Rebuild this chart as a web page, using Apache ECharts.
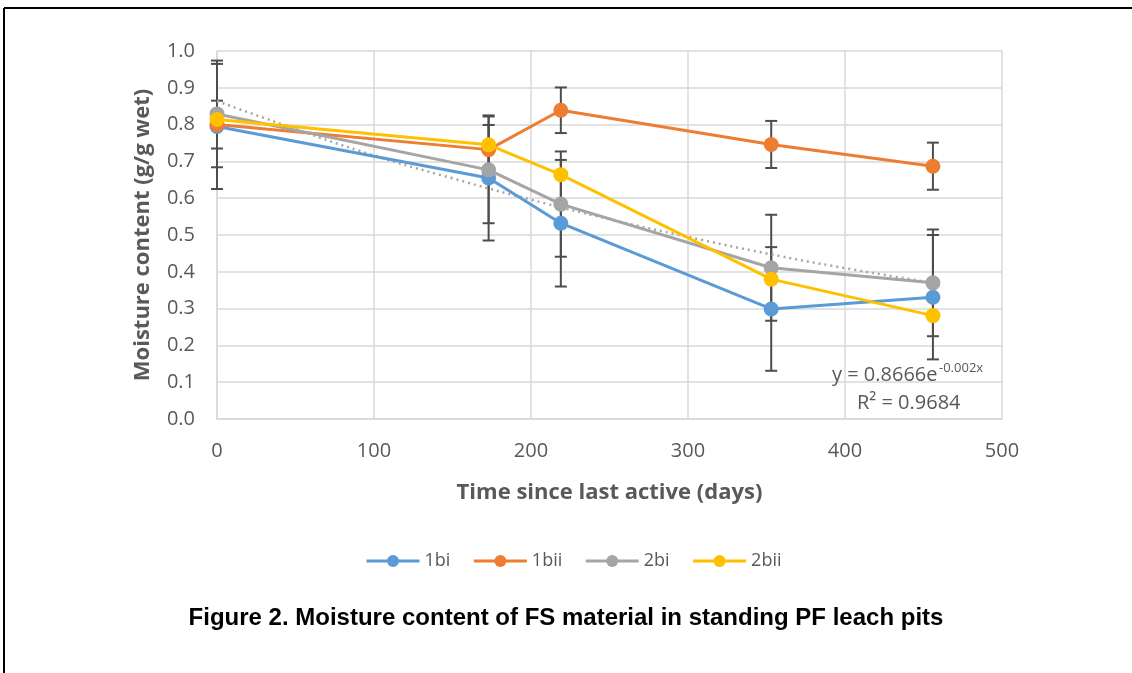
<!DOCTYPE html>
<html>
<head>
<meta charset="utf-8">
<script src="https://cdn.jsdelivr.net/npm/echarts@6/dist/echarts.min.js"></script>
<style>
html,body{margin:0;padding:0;background:#fff;}
#c{width:1132px;height:673px;}
</style>
</head>
<body>
<div id="c"></div>
<script>
// ---- data ----
var days = [0, 173, 219, 353, 456];
var s1bi  = [0.795, 0.655, 0.532, 0.299, 0.331];
var s1bii = [0.800, 0.732, 0.839, 0.746, 0.687];
var s2bi  = [0.829, 0.677, 0.584, 0.411, 0.370];
var s2bii = [0.814, 0.745, 0.664, 0.380, 0.281];
var err1bi  = [0.170, 0.170, 0.172, 0.168, 0.169];
var err1bii = [0.065, 0.067, 0.062, 0.064, 0.064];
var err2bi  = [0.145, 0.145, 0.143, 0.144, 0.145];
var trendDays = [0, 50, 100, 150, 200, 250, 300, 350, 400, 456];
var trendVals = [0.864, 0.788, 0.716, 0.654, 0.596, 0.543, 0.495, 0.450, 0.410, 0.370];
var seriesNames = ['1bi', '1bii', '2bi', '2bii'];
var colors = ['#5B9BD5', '#ED7D31', '#A5A5A5', '#FFC000'];

var chart = echarts.init(document.getElementById('c'), null, {renderer: 'canvas'});

function pairs(xs, ys) { return xs.map(function (x, i) { return [x, ys[i]]; }); }
function errData(xs, ys, es) { return xs.map(function (x, i) { return [x, ys[i] - es[i], ys[i] + es[i]]; }); }

function errRender(params, api) {
  var x = api.value(0), lo = api.value(1), hi = api.value(2);
  var pLo = api.coord([x, lo]), pHi = api.coord([x, hi]);
  var hw = 6;
  var st = {stroke: '#4d4d4d', lineWidth: 2};
  return {
    type: 'group',
    children: [
      {type: 'line', shape: {x1: pLo[0], y1: pLo[1], x2: pHi[0], y2: pHi[1]}, style: st},
      {type: 'line', shape: {x1: pLo[0] - hw, y1: pLo[1], x2: pLo[0] + hw, y2: pLo[1]}, style: st},
      {type: 'line', shape: {x1: pHi[0] - hw, y1: pHi[1], x2: pHi[0] + hw, y2: pHi[1]}, style: st}
    ]
  };
}

var FONT = 'Open Sans';
var lineData = [s1bi, s1bii, s2bi, s2bii];
var series = [];
[err1bi, err1bii, err2bi].forEach(function (e, k) {
  series.push({
    type: 'custom', name: 'err' + k, renderItem: errRender,
    data: errData(days, lineData[k], e), z: 1, silent: true,
    encode: {x: 0, y: [1, 2]}
  });
});
series.push({
  type: 'line', name: 'trend', data: pairs(trendDays, trendVals), smooth: true,
  showSymbol: false, symbol: 'none', z: 2, silent: true,
  lineStyle: {color: '#A5A5A5', width: 2.5, type: [2, 4]}
});
lineData.forEach(function (d, k) {
  series.push({
    type: 'line', name: seriesNames[k], data: pairs(days, d), z: 3 + k,
    symbol: 'circle', symbolSize: 15,
    itemStyle: {color: colors[k]},
    lineStyle: {color: colors[k], width: 3}
  });
});

chart.setOption({
  animation: false,
  backgroundColor: '#fff',
  grid: {left: 217, right: 130, top: 51, bottom: 254},
  xAxis: {
    type: 'value', min: 0, max: 500, interval: 100,
    name: 'Time since last active (days)', nameLocation: 'middle', nameGap: 63,
    nameTextStyle: {fontFamily: FONT, fontSize: 22, fontWeight: 'bold', color: '#595959'},
    axisLine: {show: true, lineStyle: {color: '#d9d9d9', width: 1.5}},
    axisTick: {show: false},
    axisLabel: {fontFamily: FONT, fontSize: 20, color: '#595959', margin: 22},
    splitLine: {show: true, lineStyle: {color: '#d9d9d9', width: 1.5}}
  },
  yAxis: {
    type: 'value', min: 0, max: 1, interval: 0.1,
    name: 'Moisture content (g/g wet)', nameLocation: 'middle', nameGap: 63,
    nameTextStyle: {fontFamily: FONT, fontSize: 22, fontWeight: 'bold', color: '#595959'},
    axisLine: {show: true, lineStyle: {color: '#d9d9d9', width: 1.5}},
    axisTick: {show: false},
    axisLabel: {fontFamily: FONT, fontSize: 20, color: '#595959', margin: 22,
      formatter: function (v) { return v.toFixed(1); }},
    splitLine: {show: true, lineStyle: {color: '#d9d9d9', width: 1.5}}
  },
  legend: {
    data: seriesNames, left: 360, top: 547, itemWidth: 53, itemHeight: 15, itemGap: 22,
    lineStyle: {width: 3},
    textStyle: {fontFamily: FONT, fontSize: 18, color: '#595959'}
  },
  graphic: [
    {type: 'line', shape: {x1: 4, y1: 8, x2: 1132, y2: 8}, style: {stroke: '#000', lineWidth: 2}},
    {type: 'line', shape: {x1: 4, y1: 8, x2: 4, y2: 673}, style: {stroke: '#000', lineWidth: 2}},
    {type: 'text', z: 100, style: {
      x: 832, y: 375, text: 'y = 0.8666e', fontFamily: FONT, fontSize: 20, fill: '#595959',
      align: 'left', verticalAlign: 'middle'
    }},
    {type: 'text', z: 100, style: {
      x: 939, y: 368, text: '-0.002x', fontFamily: FONT, fontSize: 13, fill: '#595959',
      align: 'left', verticalAlign: 'middle'
    }},
    {type: 'text', z: 100, style: {
      x: 857, y: 403, text: 'R² = 0.9684', fontFamily: FONT, fontSize: 20, fill: '#595959',
      align: 'left', verticalAlign: 'middle'
    }},
    {type: 'text', left: 'center', top: 606, style: {
      text: 'Figure 2. Moisture content of FS material in standing PF leach pits',
      fontFamily: 'Liberation Sans', fontSize: 24, fontWeight: 'bold', fill: '#000'
    }}
  ],
  series: series
});
</script>
</body>
</html>
